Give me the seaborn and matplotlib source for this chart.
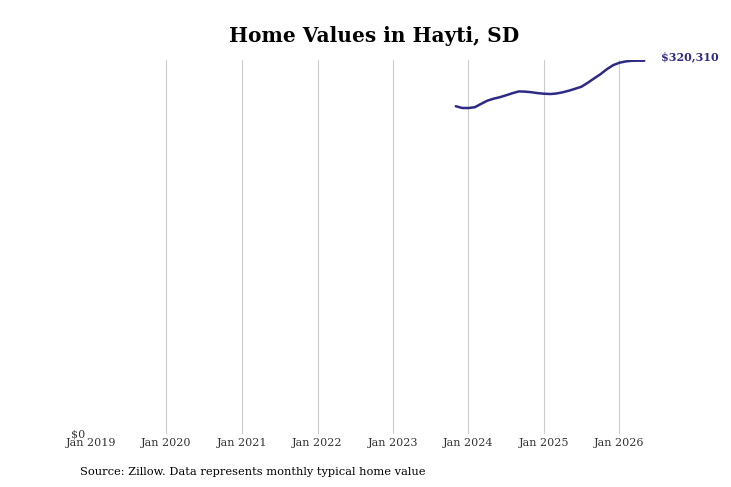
import pandas as pd
import seaborn as sns
import matplotlib.pyplot as plt
import matplotlib.dates as mdates
from matplotlib.ticker import FixedLocator, FuncFormatter

# monthly typical home value
months = pd.date_range("2023-11-01", "2026-05-01", freq="MS")
values = [
    281240, 279780, 279690, 280380, 283130, 285960, 287680, 288970,
    290600, 292400, 293950, 293780, 293260, 292490, 291970, 291710,
    292140, 293170, 294550, 296260, 297980, 301420, 305200, 308720,
    313010, 316450, 318590, 319710, 320220, 320350, 320310,
]
year_ticks = pd.date_range("2019-01-01", "2026-01-01", freq="YS")
last_label = "$320,310"

line_color = "#2e2a86"

df = pd.DataFrame({"date": months, "value": values})

sns.set_theme(style="white")
plt.rcParams['font.family'] = ['DejaVu Serif']

fig = plt.figure(figsize=(7.31, 4.87), dpi=100)
ax = fig.add_axes([0.1245, 0.109, 0.7755, 0.768])

sns.lineplot(data=df, x="date", y="value", ax=ax, color=line_color, linewidth=1.8)

ax.set_xlim(pd.Timestamp("2019-01-01"), pd.Timestamp("2026-07-06"))
ax.set_ylim(0, 321000)

ax.xaxis.set_major_locator(FixedLocator(mdates.date2num(year_ticks)))
ax.xaxis.set_major_formatter(mdates.DateFormatter("Jan %Y"))
ax.yaxis.set_major_locator(FixedLocator([0]))
ax.yaxis.set_major_formatter(FuncFormatter(lambda v, p: f"${v:,.0f}"))

ax.grid(axis="x", color="#cccccc", linewidth=0.8)
ax.grid(axis="y", visible=False)
# no gridline on the left edge (Jan 2019) in the original
ax.xaxis.get_gridlines()[0].set_visible(False)
for s in ax.spines.values():
    s.set_visible(False)
ax.tick_params(axis="both", length=0, labelsize=8, colors="#333333", pad=3)
ax.tick_params(axis="y", pad=4)
ax.set_xlabel("")
ax.set_ylabel("")

ax.annotate(last_label, xy=(df["date"].iloc[-1], df["value"].iloc[-1]),
            xytext=(12, 3), textcoords="offset points", color=line_color,
            fontsize=8, fontweight="bold", va="center", ha="left",
            annotation_clip=False)

ax.set_title("Home Values in Hayti, SD", fontsize=14.5, fontweight="bold",
             color="black", pad=13)

fig.text(0.109, 0.03, "Source: Zillow. Data represents monthly typical home value",
         fontsize=8.2, color="black", ha="left", va="center")

fig.savefig("out.png", dpi=100)
